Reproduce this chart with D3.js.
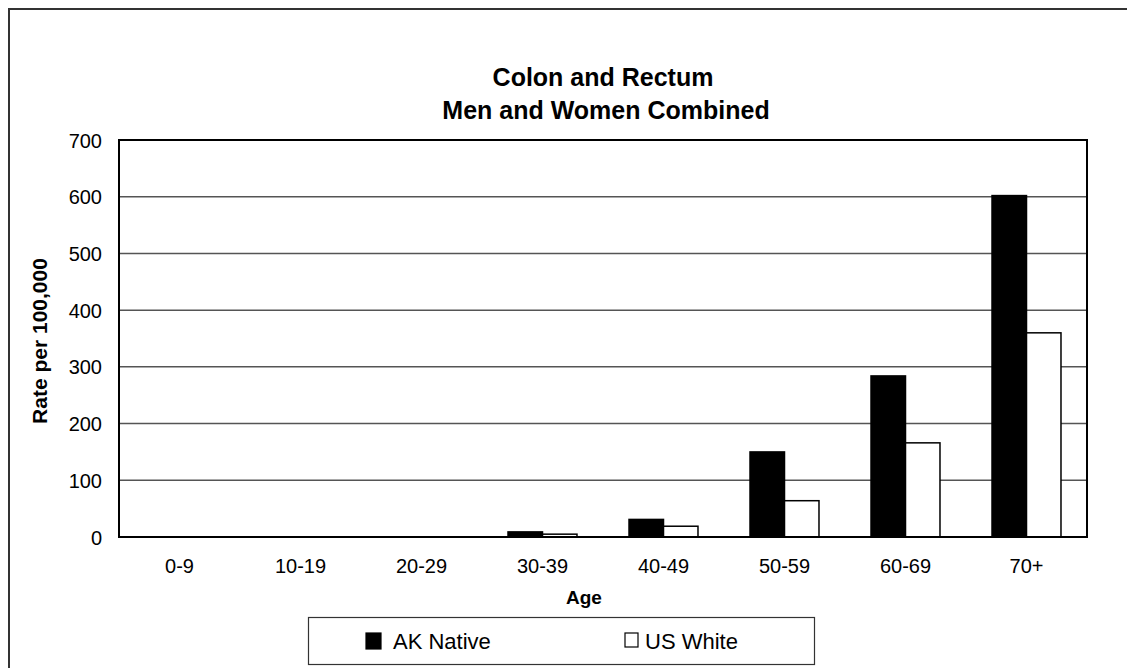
<!DOCTYPE html>
<html><head><meta charset="utf-8">
<script src="https://cdn.jsdelivr.net/npm/d3@7"></script>
<style>body{margin:0;background:#fff;} svg{display:block;font-family:"Liberation Sans",Arial,sans-serif;}</style>
</head><body>
<svg id="c" width="1127" height="668"></svg>
<script>
const categories = ["0-9","10-19","20-29","30-39","40-49","50-59","60-69","70+"];
const akNative = [0, 0, 0, 9, 31, 150, 284, 602];
const usWhite = [0, 0, 0, 5, 19, 64, 166, 360];
const yTicks = [0,100,200,300,400,500,600,700];
const seriesNames = ["AK Native","US White"];

const FF = "Liberation Sans, Arial, sans-serif";
const svg = d3.select("#c");
const m = {left:119, right:1087, top:140, bottom:537};

// outer border
svg.append("rect").attr("x",9).attr("y",9).attr("width",1140).attr("height",700)
  .attr("fill","none").attr("stroke","#333").attr("stroke-width",2);

const x = d3.scaleBand().domain(categories).range([m.left,m.right]).paddingInner(0.43).paddingOuter(0.215);
const xs = d3.scaleBand().domain(seriesNames).range([0,x.bandwidth()]);
const y = d3.scaleLinear().domain([0,700]).range([m.bottom,m.top]);

// gridlines
svg.append("g").selectAll("line").data(yTicks.filter(d=>d>0 && d<700)).join("line")
  .attr("x1",m.left).attr("x2",m.right).attr("y1",d=>y(d)).attr("y2",d=>y(d))
  .attr("stroke","#555").attr("stroke-width",1.5);

// bars
const data = categories.map((c,i)=>({c, vals:[{s:"AK Native",v:akNative[i]},{s:"US White",v:usWhite[i]}]}));
const g = svg.append("g").selectAll("g").data(data).join("g").attr("transform",d=>`translate(${x(d.c)},0)`);
g.selectAll("rect").data(d=>d.vals.filter(v=>v.v>0)).join("rect")
  .attr("x",d=>xs(d.s)).attr("width",xs.bandwidth())
  .attr("y",d=>y(d.v)).attr("height",d=>y(0)-y(d.v))
  .attr("fill",d=>d.s==="AK Native"?"#000":"#fff")
  .attr("stroke","#000").attr("stroke-width",1.5);

// plot frame
svg.append("rect").attr("x",m.left).attr("y",m.top).attr("width",m.right-m.left).attr("height",m.bottom-m.top)
  .attr("fill","none").attr("stroke","#000").attr("stroke-width",2);

// y axis
const ya = svg.append("g").attr("transform",`translate(${m.left},0)`)
  .call(d3.axisLeft(y).tickValues(yTicks).tickSize(0).tickPadding(17));
ya.attr("font-size",20).attr("font-family",FF);
ya.select(".domain").remove();
ya.selectAll("text").attr("fill","#000").attr("dy","0.35em");

// x axis
const xa = svg.append("g").attr("transform",`translate(0,${m.bottom})`)
  .call(d3.axisBottom(x).tickSize(0).tickPadding(22));
xa.attr("font-size",20).attr("font-family",FF);
xa.select(".domain").remove();
xa.selectAll("text").attr("fill","#000");
xa.selectAll(".tick").attr("transform",d=>`translate(${m.left+(categories.indexOf(d)+0.5)*(m.right-m.left)/categories.length},0)`);

// titles
svg.append("text").attr("x",603).attr("y",86).attr("text-anchor","middle").attr("font-size",25).attr("font-weight","bold").text("Colon and Rectum");
svg.append("text").attr("x",606).attr("y",119).attr("text-anchor","middle").attr("font-size",25).attr("font-weight","bold").text("Men and Women Combined");
svg.append("text").attr("x",584).attr("y",604).attr("text-anchor","middle").attr("font-size",19).attr("font-weight","bold").text("Age");
svg.append("text").attr("transform","translate(47,341) rotate(-90)").attr("text-anchor","middle").attr("font-size",21).attr("font-weight","bold").text("Rate per 100,000");

// legend
svg.append("rect").attr("x",308.5).attr("y",617.5).attr("width",506).attr("height",47).attr("fill","#fff").attr("stroke","#333").attr("stroke-width",1.2);
const lx = [366, 625];
const ltx = [27, 20];
const lg = svg.append("g").selectAll("g").data(seriesNames).join("g").attr("transform",(d,i)=>`translate(${lx[i]},641)`);
lg.append("rect").attr("x",0).attr("y",-8).attr("width",(d,i)=>i===0?15:13).attr("height",(d,i)=>i===0?16:14)
  .attr("fill",(d,i)=>i===0?"#000":"#fff").attr("stroke","#000").attr("stroke-width",1.2);
lg.append("text").attr("x",(d,i)=>ltx[i]).attr("y",8).attr("font-size",22).text(d=>d);
</script>
</body></html>
